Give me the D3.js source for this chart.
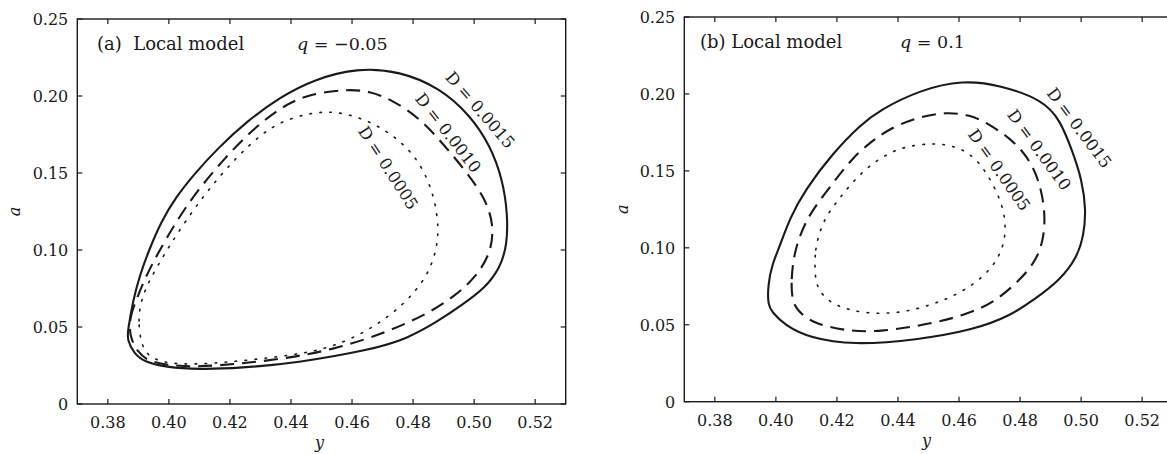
<!DOCTYPE html>
<html>
<head>
<meta charset="utf-8">
<script src="https://cdn.jsdelivr.net/npm/d3@7"></script>
<style>
  html, body { margin: 0; padding: 0; background: #fff; }
  svg { display: block; }
  text { font-family: "DejaVu Serif", "Liberation Serif", serif; fill: #1a1a1a; }
</style>
</head>
<body>
<svg id="chart" width="1167" height="454"></svg>
<script>
// Axis ticks shared by both panels
const xTicks = [0.38, 0.40, 0.42, 0.44, 0.46, 0.48, 0.50, 0.52];
const yTicks = [0, 0.05, 0.10, 0.15, 0.20, 0.25];
const xDomain = [0.37, 0.53];
const yDomain = [0, 0.25];

// Closed contours (y, a) for the local model, q = -0.05
const aD0015 = [
  [0.3863,0.0420],[0.3866,0.0481],[0.3883,0.0675],[0.3905,0.0838],[0.3935,0.1000],
  [0.3974,0.1182],[0.4023,0.1344],[0.4086,0.1500],[0.4161,0.1662],[0.4253,0.1831],
  [0.4364,0.1994],[0.4479,0.2110],[0.4616,0.2182],[0.4757,0.2162],[0.4888,0.2052],
  [0.4986,0.1877],[0.5052,0.1682],[0.5094,0.1455],[0.5110,0.1227],[0.5108,0.1032],
  [0.5085,0.0883],[0.5036,0.0753],[0.4960,0.0643],[0.4888,0.0545],[0.4780,0.0422],
  [0.4659,0.0351],[0.4417,0.0266],[0.4234,0.0234],[0.4102,0.0224],[0.3987,0.0240],
  [0.3922,0.0273],[0.3886,0.0325]
];
const aD0010 = [
  [0.3870,0.0448],[0.3873,0.0565],[0.3889,0.0656],[0.3922,0.0818],[0.3961,0.0968],
  [0.4023,0.1182],[0.4092,0.1383],[0.4183,0.1597],[0.4272,0.1779],[0.4364,0.1922],
  [0.4446,0.2006],[0.4577,0.2045],[0.4659,0.2032],[0.4731,0.1974],[0.4816,0.1864],
  [0.4888,0.1714],[0.4970,0.1519],[0.5036,0.1338],[0.5065,0.1162],[0.5055,0.0981],
  [0.5006,0.0825],[0.4937,0.0701],[0.4852,0.0591],[0.4718,0.0468],[0.4538,0.0351],
  [0.4354,0.0286],[0.4151,0.0247],[0.4053,0.0242],[0.3938,0.0266],[0.3896,0.0338]
];
const aD0005 = [
  [0.3909,0.0383],[0.3899,0.0545],[0.3909,0.0675],[0.3935,0.0800],[0.3990,0.0990],
  [0.4055,0.1190],[0.4128,0.1390],[0.4219,0.1597],[0.4299,0.1747],[0.4371,0.1838],
  [0.4462,0.1890],[0.4544,0.1903],[0.4642,0.1851],[0.4724,0.1760],[0.4790,0.1649],
  [0.4839,0.1506],[0.4872,0.1325],[0.4885,0.1130],[0.4875,0.0987],[0.4846,0.0825],
  [0.4770,0.0643],[0.4659,0.0481],[0.4538,0.0370],[0.4417,0.0318],[0.4174,0.0266],
  [0.4027,0.0253],[0.3938,0.0292]
];

// Closed contours (y, a) for the local model, q = 0.1
const bD0015 = [
  [0.3974,0.0628],[0.3974,0.0758],[0.3987,0.0888],[0.4014,0.1018],[0.4046,0.1193],
  [0.4095,0.1375],[0.4187,0.1616],[0.4276,0.1798],[0.4341,0.1896],[0.4472,0.2026],
  [0.4613,0.2090],[0.4734,0.2058],[0.4875,0.1961],[0.4931,0.1831],[0.4970,0.1636],
  [0.5003,0.1441],[0.5016,0.1246],[0.5009,0.1083],[0.4986,0.0934],[0.4931,0.0791],
  [0.4849,0.0667],[0.4767,0.0557],[0.4646,0.0466],[0.4462,0.0401],[0.4252,0.0368],
  [0.4111,0.0414],[0.4029,0.0498],[0.3987,0.0583]
];
const bD0010 = [
  [0.4053,0.0661],[0.4050,0.0791],[0.4059,0.0953],[0.4079,0.1083],[0.4112,0.1226],
  [0.4177,0.1395],[0.4253,0.1590],[0.4308,0.1681],[0.4364,0.1766],[0.4462,0.1850],
  [0.4561,0.1883],[0.4636,0.1863],[0.4692,0.1811],[0.4767,0.1714],[0.4826,0.1590],
  [0.4862,0.1441],[0.4882,0.1246],[0.4879,0.1072],[0.4855,0.0922],[0.4800,0.0791],
  [0.4718,0.0649],[0.4636,0.0576],[0.4525,0.0511],[0.4341,0.0453],[0.4230,0.0459],
  [0.4118,0.0511],[0.4069,0.0596]
];
const bD0005 = [
  [0.4128,0.0856],[0.4128,0.0986],[0.4145,0.1116],[0.4167,0.1213],[0.4204,0.1311],
  [0.4243,0.1408],[0.4296,0.1518],[0.4358,0.1603],[0.4423,0.1661],[0.4521,0.1681],
  [0.4587,0.1661],[0.4643,0.1603],[0.4685,0.1505],[0.4721,0.1376],[0.4747,0.1246],
  [0.4754,0.1103],[0.4741,0.0986],[0.4711,0.0876],[0.4652,0.0765],[0.4570,0.0674],
  [0.4505,0.0628],[0.4413,0.0576],[0.4292,0.0570],[0.4194,0.0622],[0.4151,0.0693],
  [0.4131,0.0771]
];

// Labels
const panelTitles = ["(a)\u00a0\u00a0Local model", "(b) Local model"];
const qValues = ["\u22120.05", "0.1"];
const curveLabels = ["D = 0.0015", "D = 0.0010", "D = 0.0005"];

const svg = d3.select("#chart");
const ink = "#1a1a1a";

const panels = [
  {
    x0: 77.3, x1: 565.7, y0: 404, y1: 19,
    series: [aD0015, aD0010, aD0005],
    title: panelTitles[0], q: qValues[0],
    titlePos: [97, 50], qPos: [297, 50], aLabelX: 15,
    labelPos: [[480, 110, 49], [448, 133, 52], [388, 168, 57]]
  },
  {
    x0: 684.3, x1: 1172.7, y0: 401.7, y1: 17,
    series: [bD0015, bD0010, bD0005],
    title: panelTitles[1], q: qValues[1],
    titlePos: [700, 48], qPos: [900, 48], aLabelX: 623,
    labelPos: [[1079, 128, 53], [1039, 150, 54], [999, 170, 55]]
  }
];

const styles = [
  { width: 2.1, dash: null },
  { width: 2.1, dash: "14,8" },
  { width: 1.6, dash: "1.6,8.4" }
];

panels.forEach(p => {
  const x = d3.scaleLinear().domain(xDomain).range([p.x0, p.x1]);
  const y = d3.scaleLinear().domain(yDomain).range([p.y0, p.y1]);
  const g = svg.append("g");

  // Frame
  g.append("rect")
    .attr("x", p.x0).attr("y", p.y1)
    .attr("width", p.x1 - p.x0).attr("height", p.y0 - p.y1)
    .attr("fill", "none").attr("stroke", ink).attr("stroke-width", 1.4);

  // Inward ticks on all four sides
  const tickLen = 5;
  const tk = g.append("g").attr("stroke", ink).attr("stroke-width", 1.2);
  xTicks.forEach(v => {
    tk.append("line").attr("x1", x(v)).attr("x2", x(v)).attr("y1", p.y0).attr("y2", p.y0 - tickLen);
    tk.append("line").attr("x1", x(v)).attr("x2", x(v)).attr("y1", p.y1).attr("y2", p.y1 + tickLen);
  });
  yTicks.forEach(v => {
    tk.append("line").attr("x1", p.x0).attr("x2", p.x0 + tickLen).attr("y1", y(v)).attr("y2", y(v));
    tk.append("line").attr("x1", p.x1).attr("x2", p.x1 - tickLen).attr("y1", y(v)).attr("y2", y(v));
  });

  // Tick labels
  g.selectAll(".xl").data(xTicks).enter().append("text")
    .attr("x", d => x(d)).attr("y", p.y0 + 24)
    .attr("text-anchor", "middle").attr("font-size", 16)
    .text(d => d.toFixed(2));
  g.selectAll(".yl").data(yTicks).enter().append("text")
    .attr("x", p.x0 - 9).attr("y", d => y(d) + 6)
    .attr("text-anchor", "end").attr("font-size", 16)
    .text(d => d === 0 ? "0" : d.toFixed(2));

  // Axis titles
  g.append("text")
    .attr("x", (p.x0 + Math.min(p.x1, 1167 + 10)) / 2 - 2).attr("y", p.y0 + 44)
    .attr("text-anchor", "middle").attr("font-size", 16).attr("font-style", "italic")
    .text("y");
  g.append("text")
    .attr("transform", `translate(${p.aLabelX + 5},${(p.y0 + p.y1) / 2}) rotate(-90)`)
    .attr("text-anchor", "middle").attr("font-size", 16).attr("font-style", "italic")
    .text("a");

  // Contours
  const line = d3.line()
    .x(d => x(d[0])).y(d => y(d[1]))
    .curve(d3.curveBasisClosed);
  p.series.forEach((s, i) => {
    g.append("path")
      .attr("d", line(s))
      .attr("fill", "none").attr("stroke", ink)
      .attr("stroke-width", styles[i].width)
      .attr("stroke-dasharray", styles[i].dash)
      .attr("stroke-linecap", i === 2 ? "round" : "butt");
  });

  // Panel annotations
  g.append("text").attr("x", p.titlePos[0]).attr("y", p.titlePos[1])
    .attr("font-size", 18).text(p.title);
  const qt = g.append("text").attr("x", p.qPos[0]).attr("y", p.qPos[1]).attr("font-size", 17.5);
  qt.append("tspan").attr("font-style", "italic").text("q");
  qt.append("tspan").text(" = " + p.q);

  // Rotated contour labels
  p.labelPos.forEach((lp, i) => {
    g.append("text")
      .attr("transform", `translate(${lp[0]},${lp[1]}) rotate(${lp[2]})`)
      .attr("text-anchor", "middle").attr("dominant-baseline", "central")
      .attr("font-size", 16.5)
      .text(curveLabels[i]);
  });
});
</script>
</body>
</html>
